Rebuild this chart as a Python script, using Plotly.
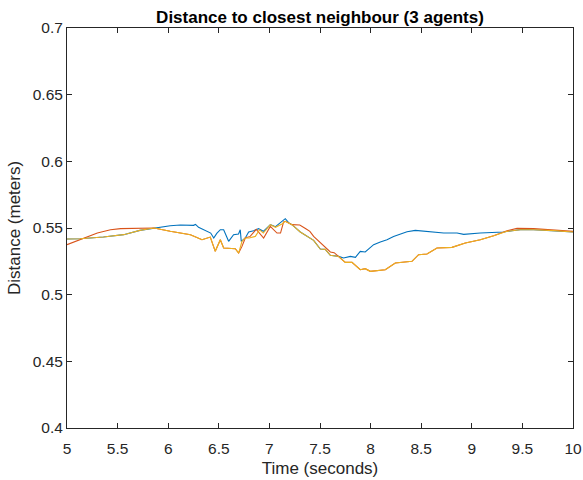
import plotly.graph_objects as go

# Agent 1 (blue)
t_agent1 = [5.0, 5.13, 5.36, 5.56, 5.72, 5.86, 6.02, 6.12, 6.25, 6.27, 6.30, 6.42, 6.45,
            6.48, 6.515, 6.548, 6.597, 6.646, 6.695, 6.712, 6.722, 6.762, 6.795, 6.844,
            6.893, 6.94, 7.01, 7.06, 7.12, 7.157, 7.19, 7.223, 7.305, 7.371, 7.437, 7.503,
            7.552, 7.602, 7.684, 7.733, 7.80, 7.85, 7.898, 7.947, 7.98, 8.03, 8.096, 8.162,
            8.227, 8.36, 8.442, 8.557, 8.722, 8.854, 8.92, 9.084, 9.216, 9.315, 9.40, 9.5,
            9.61, 9.81, 10.0]
d_agent1 = [0.5417, 0.5419, 0.5432, 0.545, 0.5482, 0.550, 0.5517, 0.5522, 0.552, 0.5527,
            0.5505, 0.5462, 0.5425, 0.546, 0.5487, 0.5487, 0.540, 0.545, 0.5455, 0.5487,
            0.540, 0.5425, 0.547, 0.548, 0.5495, 0.5475, 0.5525, 0.551, 0.5545, 0.557,
            0.554, 0.5525, 0.547, 0.5437, 0.5407, 0.5342, 0.534, 0.5295, 0.5287, 0.5275,
            0.5287, 0.528, 0.5325, 0.532, 0.534, 0.5375, 0.5395, 0.5412, 0.5437, 0.5472,
            0.5482, 0.5472, 0.5462, 0.5462, 0.5452, 0.5462, 0.5465, 0.547, 0.548, 0.549,
            0.5487, 0.548, 0.547]

# Agent 2 (red)
t_agent2 = [5.0, 5.13, 5.30, 5.43, 5.53, 5.86, 6.02, 6.22, 6.334, 6.416, 6.465, 6.515,
            6.548, 6.663, 6.696, 6.729, 6.762, 6.81, 6.87, 6.943, 7.009, 7.075, 7.11, 7.14,
            7.157, 7.223, 7.30, 7.36, 7.40, 7.437, 7.52, 7.602, 7.64, 7.684, 7.75, 7.816,
            7.898, 7.947, 7.997, 8.145, 8.244, 8.409, 8.474, 8.557, 8.656, 8.804, 8.936,
            9.084, 9.216, 9.348, 9.447, 9.61, 9.808, 10.0]
d_agent2 = [0.5375, 0.5412, 0.5462, 0.5487, 0.5495, 0.550, 0.5475, 0.545, 0.5412, 0.5432,
            0.5325, 0.5412, 0.535, 0.5345, 0.5312, 0.5362, 0.5425, 0.5437, 0.549, 0.5425,
            0.5512, 0.5462, 0.5462, 0.5545, 0.555, 0.5525, 0.5522, 0.5495, 0.5475, 0.5437,
            0.5375, 0.532, 0.5315, 0.5287, 0.5242, 0.5242, 0.5187, 0.5195, 0.5175, 0.5187,
            0.5237, 0.525, 0.530, 0.5305, 0.535, 0.5355, 0.5387, 0.5412, 0.5442, 0.548,
            0.5497, 0.5495, 0.5487, 0.5475]

# Agent 3 (yellow)
t_agent3 = [5.0, 5.13, 5.36, 5.56, 5.72, 5.86, 6.02, 6.22, 6.334, 6.416, 6.465, 6.515,
            6.548, 6.663, 6.696, 6.729, 6.762, 6.80, 6.861, 6.903, 6.94, 7.009, 7.06, 7.124,
            7.157, 7.223, 7.305, 7.371, 7.437, 7.503, 7.552, 7.602, 7.684, 7.75, 7.816,
            7.898, 7.947, 7.997, 8.145, 8.244, 8.409, 8.474, 8.557, 8.656, 8.804, 8.936,
            9.084, 9.216, 9.348, 9.479, 9.61, 9.808, 10.0]
d_agent3 = [0.5417, 0.5419, 0.5432, 0.545, 0.5482, 0.550, 0.5475, 0.545, 0.5412, 0.5432,
            0.5325, 0.5412, 0.535, 0.5345, 0.5312, 0.540, 0.5425, 0.5425, 0.5437, 0.5487,
            0.5462, 0.5525, 0.5505, 0.553, 0.555, 0.5525, 0.547, 0.5437, 0.5407, 0.5342,
            0.534, 0.5295, 0.5287, 0.5242, 0.5242, 0.5187, 0.5195, 0.5175, 0.5187, 0.5237,
            0.525, 0.530, 0.5305, 0.535, 0.5355, 0.5387, 0.5412, 0.5442, 0.5475, 0.5487,
            0.5487, 0.548, 0.547]

x_ticks = [5, 5.5, 6, 6.5, 7, 7.5, 8, 8.5, 9, 9.5, 10]
x_tick_text = ["5", "5.5", "6", "6.5", "7", "7.5", "8", "8.5", "9", "9.5", "10"]
y_ticks = [0.4, 0.45, 0.5, 0.55, 0.6, 0.65, 0.7]
y_tick_text = ["0.4", "0.45", "0.5", "0.55", "0.6", "0.65", "0.7"]

FONT = "Arial, Liberation Sans, Helvetica, sans-serif"
AX = "#262626"

fig = go.Figure()
for t, d, c in [(t_agent1, d_agent1, "#0072BD"),
                (t_agent2, d_agent2, "#D95319"),
                (t_agent3, d_agent3, "#EDB120")]:
    fig.add_trace(go.Scatter(x=t, y=d, mode="lines",
                             line=dict(color=c, width=1.1), showlegend=False))

axis_common = dict(
    showgrid=False, zeroline=False, showline=True, linecolor=AX, linewidth=1,
    mirror="ticks", ticks="inside", ticklen=5, tickcolor=AX, tickwidth=1,
    tickfont=dict(family=FONT, size=15.5, color=AX), automargin=False,
)

fig.update_xaxes(range=[5, 10], tickvals=x_ticks, ticktext=x_tick_text,
                 ticklabelstandoff=6,
                 title=dict(text="Time (seconds)", font=dict(family=FONT, size=17, color=AX),
                            standoff=6),
                 **axis_common)
fig.update_yaxes(range=[0.4, 0.7], tickvals=y_ticks, ticktext=y_tick_text,
                 title=dict(text="Distance (meters)", font=dict(family=FONT, size=17, color=AX),
                            standoff=7),
                 **axis_common)

fig.update_layout(
    width=583, height=480,
    margin=dict(l=67, r=10, t=28, b=52),
    paper_bgcolor="white", plot_bgcolor="white",
    title=dict(text="<b>Distance to closest neighbour (3 agents)</b>",
               font=dict(family=FONT, size=17, color="black"),
               x=0.5, xref="paper", xanchor="center", automargin=False,
               y=1 - 17 / 480, yref="container", yanchor="middle"),
)

fig.write_html("out.html")
